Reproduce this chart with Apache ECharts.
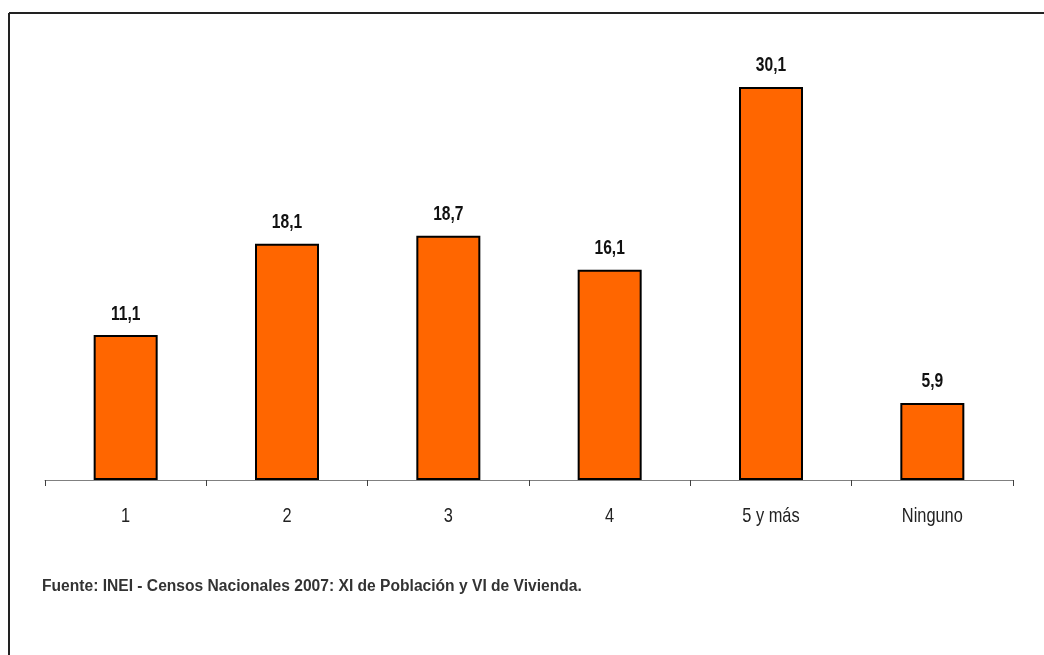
<!DOCTYPE html>
<html>
<head>
<meta charset="utf-8">
<script src="https://cdn.jsdelivr.net/npm/echarts@6/dist/echarts.min.js"></script>
<style>
html,body{margin:0;padding:0;background:#fff;}
#c{width:1044px;height:655px;}
</style>
</head>
<body>
<div id="c"></div>
<script>
var categories = ['1', '2', '3', '4', '5 y más', 'Ninguno'];
var values = [11.1, 18.1, 18.7, 16.1, 30.1, 5.9];
var sourceText = 'Fuente: INEI - Censos Nacionales 2007: XI de Población y VI de Vivienda.';
var FONT = "'Liberation Sans', Arial, sans-serif";
var NARROW = 0.78;

function fmt(v) { return v.toFixed(1).replace('.', ','); }

var labelData = values.map(function (v, i) { return [i, v]; });

var chart = echarts.init(document.getElementById('c'), null, {renderer: 'canvas'});
chart.setOption({
  animation: false,
  backgroundColor: '#fff',
  grid: {left: 45, right: 31, top: 23, bottom: 175},
  xAxis: {
    type: 'category',
    data: categories,
    axisLine: {lineStyle: {color: '#808080', width: 1}},
    axisTick: {show: true, length: 6, lineStyle: {color: '#404040'}},
    axisLabel: {show: false}
  },
  yAxis: {type: 'value', min: 0, max: 35, show: false, splitLine: {show: false}},
  graphic: [
    {type: 'line', shape: {x1: 9, y1: 13, x2: 1044, y2: 13}, style: {stroke: '#222', lineWidth: 2}},
    {type: 'line', shape: {x1: 9, y1: 13, x2: 9, y2: 655}, style: {stroke: '#222', lineWidth: 2}},
    {type: 'text', x: 42, y: 587, scaleX: 0.975,
     style: {text: sourceText, font: 'bold 16px ' + FONT, fill: '#333', verticalAlign: 'middle', align: 'left'}}
  ],
  series: [{
    type: 'bar',
    data: values,
    barWidth: 64,
    itemStyle: {color: '#FF6600', borderColor: '#000', borderWidth: 2}
  }, {
    type: 'custom',
    data: labelData,
    clip: false,
    silent: true,
    renderItem: function (params, api) {
      var i = api.value(0), v = api.value(1);
      var top = api.coord([i, v]);
      var base = api.coord([i, 0]);
      return {
        type: 'group',
        children: [{
          type: 'text', x: top[0], y: top[1] - 21, scaleX: NARROW,
          style: {text: fmt(v), font: 'bold 20px ' + FONT, fill: '#111', align: 'center', verticalAlign: 'middle'}
        }, {
          type: 'text', x: base[0], y: base[1] + 36, scaleX: NARROW,
          style: {text: categories[i], font: '21px ' + FONT, fill: '#222', align: 'center', verticalAlign: 'middle'}
        }]
      };
    }
  }]
});
</script>
</body>
</html>
